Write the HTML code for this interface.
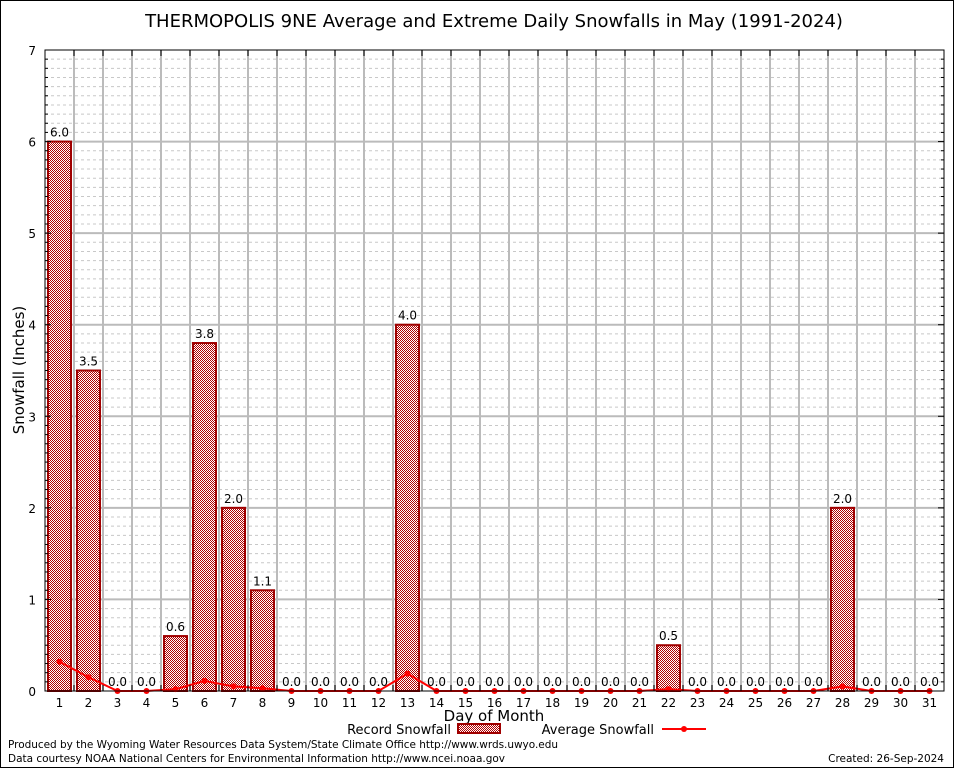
<!DOCTYPE html>
<html><head><meta charset="utf-8"><style>
body{margin:0;background:#fff;}
svg text{font-family:"DejaVu Sans","Liberation Sans",sans-serif;}
</style></head><body>
<svg id="chart" width="954" height="768" xmlns="http://www.w3.org/2000/svg">
<defs>
<pattern id="hatch" width="2" height="2" patternUnits="userSpaceOnUse">
<rect width="2" height="2" fill="#fff"/>
<rect width="1" height="1" fill="#b00000"/><rect x="1" y="1" width="1" height="1" fill="#b00000"/>
</pattern>
</defs>
<rect x="0.5" y="0.5" width="953" height="767" fill="#fff" stroke="#000"/>
<text x="494" y="27" font-size="18" text-anchor="middle">THERMOPOLIS 9NE Average and Extreme Daily Snowfalls in May (1991-2024)</text>
<g id="grid"></g>
<g id="bars"></g>
<g id="avg"></g>
<g id="axes"></g>
<text x="24" y="370" font-size="15" text-anchor="middle" transform="rotate(-90 24 370)">Snowfall (Inches)</text>
<text x="494" y="721" font-size="15" text-anchor="middle">Day of Month</text>
<g>
<text x="451" y="734" font-size="13" text-anchor="end">Record Snowfall</text>
<rect x="458" y="724" width="42" height="9" fill="url(#hatch)" stroke="#a00000" stroke-width="2"/>
</g>
<g>
<text x="654" y="734" font-size="13" text-anchor="end">Average Snowfall</text>
<line x1="662" y1="729" x2="706" y2="729" stroke="#f00" stroke-width="2"/>
<circle cx="684" cy="729" r="3" fill="#f00"/>
</g>
<text x="8" y="748" font-size="10.5" textLength="550">Produced by the Wyoming Water Resources Data System/State Climate Office http://www.wrds.uwyo.edu</text>
<text x="8" y="762" font-size="10.5" textLength="497">Data courtesy NOAA National Centers for Environmental Information http://www.ncei.noaa.gov</text>
<text x="944" y="762" font-size="10.5" text-anchor="end">Created: 26-Sep-2024</text>
</svg>
<script>
const days=[];for(let i=1;i<=31;i++)days.push(i);
const recordValues=[6.0,3.5,0.0,0.0,0.6,3.8,2.0,1.1,0.0,0.0,0.0,0.0,4.0,0.0,0.0,0.0,0.0,0.0,0.0,0.0,0.0,0.5,0.0,0.0,0.0,0.0,0.0,2.0,0.0,0.0,0.0];
const averageValues=[0.32,0.15,0.0,0.0,0.02,0.11,0.05,0.03,0.0,0.0,0.0,0.0,0.19,0.0,0.0,0.0,0.0,0.0,0.0,0.0,0.0,0.02,0.0,0.0,0.0,0.0,0.0,0.05,0.0,0.0,0.0];
const yTicks=[0,1,2,3,4,5,6,7];
const L=45,R=944,T=50,B=691,YMAX=7;
const bw=(R-L)/days.length;
const xc=d=>L+bw*(d-0.5);
const y=v=>B-(v/YMAX)*(B-T);
const NS="http://www.w3.org/2000/svg";
function mk(tag,attrs,parent){const e=document.createElementNS(NS,tag);for(const k in attrs)e.setAttribute(k,attrs[k]);document.getElementById(parent).appendChild(e);return e;}
for(let k=1;k<YMAX*10;k++){const v=k/10;const g=mk('line',{x1:L,x2:R,y1:y(v),y2:y(v),stroke:k%10?'#c8c8c8':'#bbb','stroke-width':k%10?1:2,'stroke-dasharray':k%10?'3,3':'none'},'grid');

}
for(let i=1;i<days.length;i++){const g=mk('line',{x1:L+bw*i,x2:L+bw*i,y1:T,y2:B,stroke:'#bbb','stroke-width':2},'grid');

}
days.forEach((d,i)=>{const v=recordValues[i];
if(v>0){const r=mk('rect',{x:xc(d)-11.5,y:y(v),width:23,height:B-y(v),fill:'url(#hatch)',stroke:'#a00000','stroke-width':2},'bars');

}
const t=mk('text',{x:xc(d),y:y(v)-5,'font-size':12,'text-anchor':'middle'},'bars');t.textContent=v.toFixed(1);

});
const pl=mk('polyline',{points:days.map((d,i)=>xc(d)+','+y(averageValues[i])).join(' '),fill:'none',stroke:'#f00','stroke-width':2},'avg');


days.forEach((d,i)=>{const c=mk('circle',{cx:xc(d),cy:y(averageValues[i]),r:3,fill:'#f00'},'avg');

});
const fr=mk('rect',{x:L,y:T,width:R-L,height:B-T,fill:'none',stroke:'#000','stroke-width':1},'axes');


yTicks.forEach(v=>{const t=mk('text',{x:L-9,y:y(v)+5,'font-size':12,'text-anchor':'end','font-family':'Liberation Serif'},'axes');t.textContent=v;


mk('line',{x1:L,x2:L+6,y1:y(v),y2:y(v),stroke:'#000'},'axes');mk('line',{x1:R-6,x2:R,y1:y(v),y2:y(v),stroke:'#000'},'axes');});
for(let k=1;k<YMAX*10;k++){if(k%10){mk('line',{x1:L,x2:L+3,y1:y(k/10),y2:y(k/10),stroke:'#000'},'axes');mk('line',{x1:R-3,x2:R,y1:y(k/10),y2:y(k/10),stroke:'#000'},'axes');}}
for(let i=1;i<days.length;i++){mk('line',{x1:L+bw*i,x2:L+bw*i,y1:T,y2:T+6,stroke:'#000'},'axes');mk('line',{x1:L+bw*i,x2:L+bw*i,y1:B-6,y2:B,stroke:'#000'},'axes');}
days.forEach(d=>{const t=mk('text',{x:xc(d),y:B+16,'font-size':12,'text-anchor':'middle','font-family':'Liberation Serif'},'axes');t.textContent=d;

});
</script>
</body></html>
